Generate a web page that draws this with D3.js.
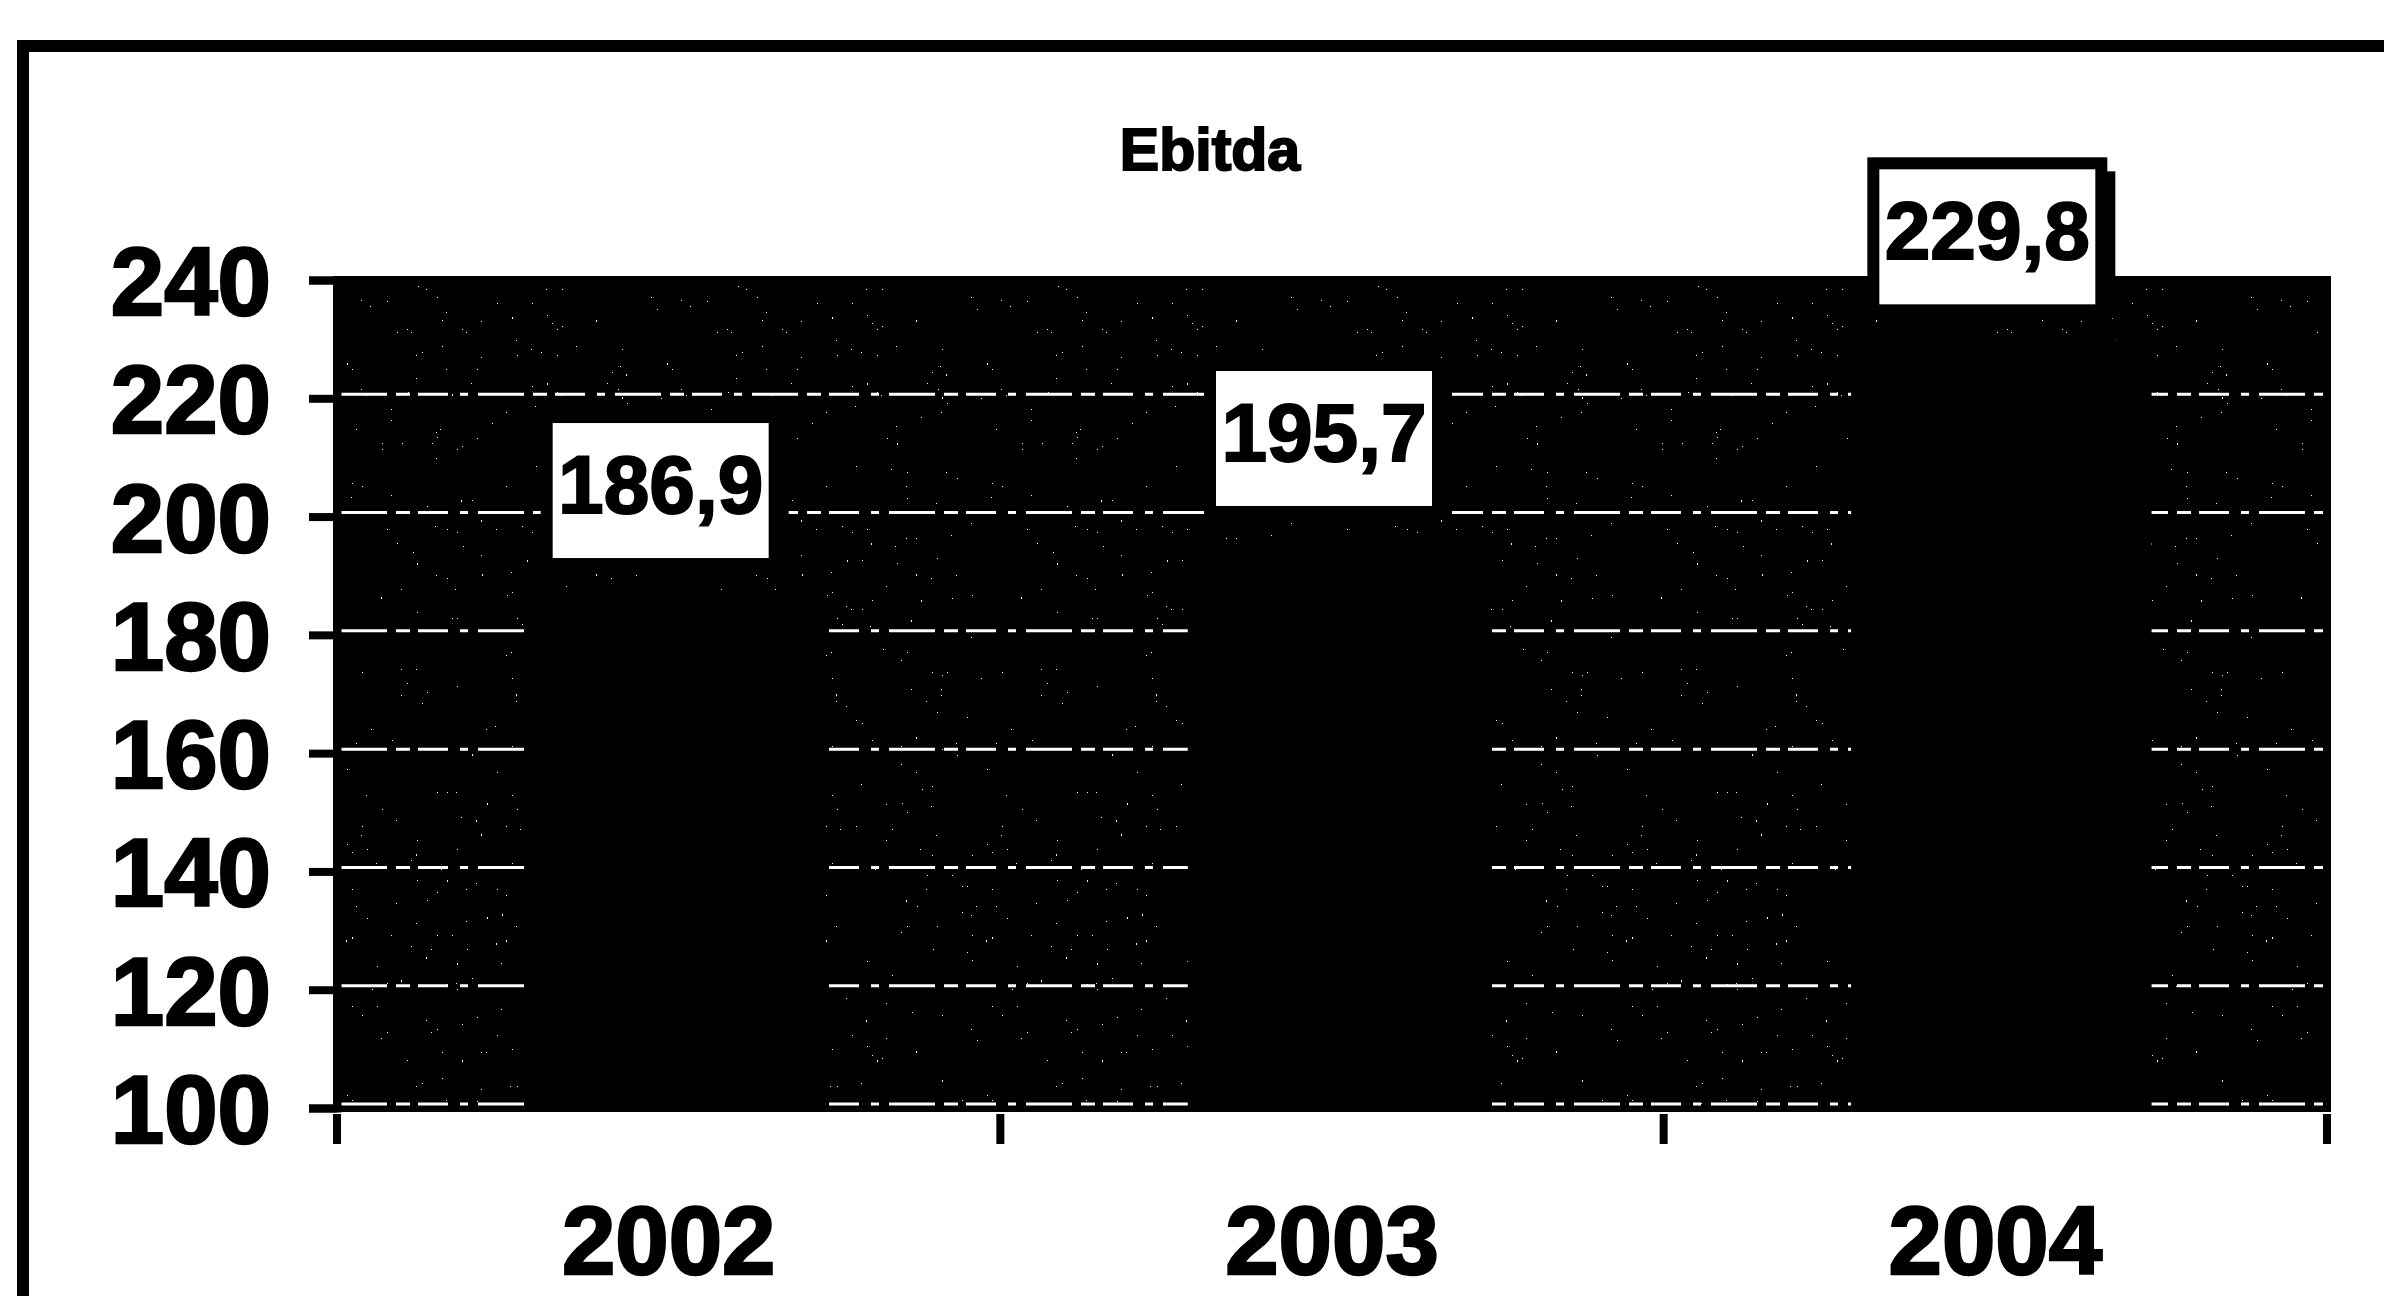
<!DOCTYPE html>
<html>
<head>
<meta charset="utf-8">
<script src="https://cdn.jsdelivr.net/npm/d3@7/dist/d3.min.js"></script>
<style>
  html, body { margin: 0; padding: 0; background: #fff; }
  svg { display: block; }
  text { font-family: "Liberation Sans", Arial, Helvetica, sans-serif; font-weight: 700; fill: #000; }
</style>
</head>
<body>
<svg id="chart" width="2384" height="1296"></svg>
<script>
// Ebitda by year
const categories = ["2002", "2003", "2004"];
const ebitda = [186.9, 195.7, 229.8];
const yTicks = [100, 120, 140, 160, 180, 200, 220, 240];
const yDomain = [100, 240];
const chartTitle = "Ebitda";

const W = 2384, H = 1296;
const plot = { left: 337, right: 2327, top: 280, bottom: 1108 };

// decimal comma for the value labels
const it = d3.formatLocale({ decimal: ",", thousands: ".", grouping: [3], currency: ["", " €"] });
const fmt = it.format(".1f");

const svg = d3.select("#chart");

// printed-halftone speckle for the plot background
const defs = svg.append("defs");
const grain = defs.append("filter").attr("id", "grain")
  .attr("x", 0).attr("y", 0).attr("width", "100%").attr("height", "100%");
grain.append("feTurbulence").attr("type", "fractalNoise")
  .attr("baseFrequency", "0.8 0.35").attr("numOctaves", 1).attr("seed", 7).attr("result", "n");
grain.append("feColorMatrix").attr("type", "matrix")
  .attr("values", "0 0 0 0 1  0 0 0 0 1  0 0 0 0 1  3 0 0 0 -1.42").attr("result", "m");
const ct = grain.append("feComponentTransfer");
ct.append("feFuncA").attr("type", "discrete").attr("tableValues", "0 0 0 0 0 0 0 0 1");

const x = d3.scaleBand()
  .domain(categories)
  .range([plot.left, plot.right])
  .paddingInner(0.547)
  .paddingOuter(0.2735);

const y = d3.scaleLinear().domain(yDomain).range([plot.bottom, plot.top]);

const barShift = 6;    // bars sit a touch right of the band centre
const boxShift = -8;   // label boxes a touch left

// outer chart frame (top and left edges)
svg.append("path")
  .attr("d", `M23,${H} V46 H${W}`)
  .attr("fill", "none").attr("stroke", "#000").attr("stroke-width", 12);

// title
svg.append("text")
  .attr("x", 1210).attr("y", 170)
  .attr("text-anchor", "middle")
  .attr("font-size", 59)
  .attr("stroke", "#000").attr("stroke-width", 2)
  .text(chartTitle);

// plot background
svg.append("rect")
  .attr("x", plot.left).attr("y", y(yDomain[1]))
  .attr("width", plot.right - plot.left).attr("height", y(yDomain[0]) - y(yDomain[1]))
  .attr("fill", "#000").attr("stroke", "#000").attr("stroke-width", 8);

svg.append("rect")
  .attr("x", plot.left + 6).attr("y", y(yDomain[1]) + 6)
  .attr("width", plot.right - plot.left - 12).attr("height", y(yDomain[0]) - y(yDomain[1]) - 8)
  .attr("fill", "#fff")
  .attr("filter", "url(#grain)");

// gridlines
svg.append("g").selectAll("line")
  .data(yTicks.filter(d => d < yDomain[1]))
  .join("line")
  .attr("x1", plot.left + 4).attr("x2", plot.right - 4)
  .attr("y1", d => y(d) - 4).attr("y2", d => y(d) - 4)
  .attr("stroke", "#fff").attr("stroke-width", 3)
  .attr("stroke-dasharray", "46 9 14 8 30 12 8 10");

// bars
svg.append("g").selectAll("rect")
  .data(ebitda)
  .join("rect")
  .attr("x", (d, i) => x(categories[i]) + barShift)
  .attr("width", x.bandwidth())
  .attr("y", d => y(d))
  .attr("height", d => y(yDomain[0]) - y(d) + 4)
  .attr("fill", "#000");

// y axis
const yAxis = d3.axisLeft(y).tickValues(yTicks).tickSize(28).tickPadding(38).tickFormat(d3.format("d"));
const gy = svg.append("g").attr("transform", `translate(${plot.left},0)`).call(yAxis);
gy.select(".domain").attr("stroke", "#000").attr("stroke-width", 8);
gy.selectAll(".tick line").attr("stroke", "#000").attr("stroke-width", 8);
gy.selectAll(".tick text")
  .attr("font-size", 96).attr("font-family", null)
  .attr("dy", "0.36em")
  .attr("stroke", "#000").attr("stroke-width", 2.5);

// x axis: ticks between categories
const xAxis = d3.axisBottom(x).tickSize(0).tickPadding(0);
const gx = svg.append("g").attr("transform", `translate(0,${plot.bottom + 6})`).call(xAxis);
gx.select(".domain").remove();
gx.selectAll(".tick text")
  .attr("font-size", 96).attr("font-family", null)
  .attr("y", 160).attr("dy", 0)
  .attr("stroke", "#000").attr("stroke-width", 2.5);
const bounds = [plot.left].concat(categories.map(c => x(c) + x.bandwidth() + x.step() * x.paddingInner() / 2));
bounds[bounds.length - 1] = plot.right;
gx.selectAll(".bound").data(bounds).join("line")
  .attr("class", "bound")
  .attr("x1", d => d).attr("x2", d => d)
  .attr("y1", 0).attr("y2", 30)
  .attr("stroke", "#000").attr("stroke-width", 8);

// value labels in boxes above the bars
const boxW = 228, boxH = 147, gap = 30;
const lab = svg.append("g").selectAll("g")
  .data(ebitda)
  .join("g")
  .attr("transform", (d, i) => `translate(${x(categories[i]) + x.bandwidth() / 2 + boxShift},${y(d) - gap - boxH})`);
lab.append("rect")
  .attr("x", -boxW / 2 + 8).attr("y", 8)
  .attr("width", boxW + 6).attr("height", boxH)
  .attr("fill", "#000");
lab.append("rect")
  .attr("x", -boxW / 2).attr("y", 0)
  .attr("width", boxW).attr("height", boxH)
  .attr("fill", "#fff").attr("stroke", "#000").attr("stroke-width", 12);
lab.append("text")
  .attr("x", 0).attr("y", 96)
  .attr("text-anchor", "middle")
  .attr("font-size", 82)
  .attr("stroke", "#000").attr("stroke-width", 2)
  .text(d => fmt(d));
</script>
</body>
</html>
